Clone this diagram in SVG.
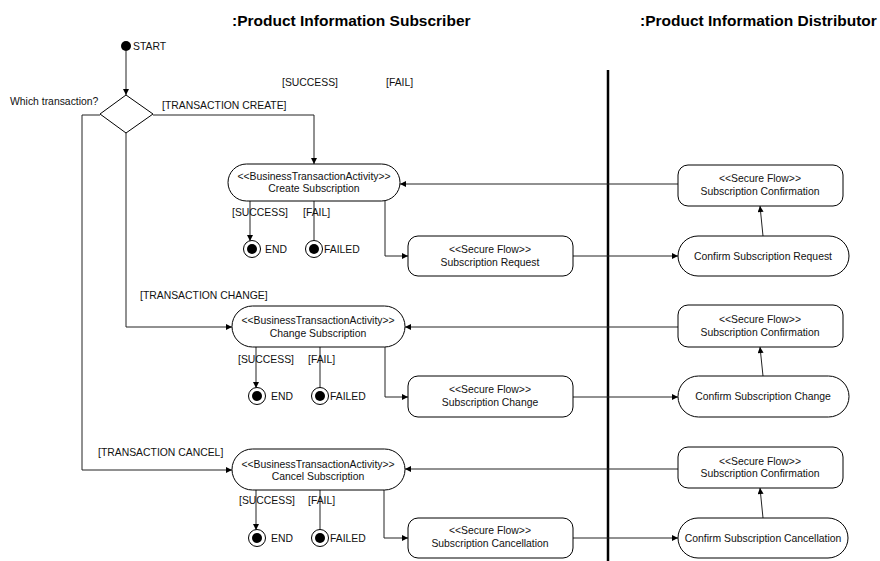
<svg xmlns="http://www.w3.org/2000/svg" width="880" height="561" viewBox="0 0 880 561">
  <defs>
    <marker id="arrow" viewBox="0 0 10 10" refX="10" refY="5" markerWidth="8" markerHeight="6" markerUnits="userSpaceOnUse" orient="auto">
      <path d="M0,0 L10,5 L0,10 z" fill="#000"/>
    </marker>
    <style>
      text { font-family: "Liberation Sans", Arial, sans-serif; fill: #111; }
      .lbl { font-size: 10.4px; }
      .node { font-size: 10.4px; text-anchor: middle; }
      .title { font-size: 15.5px; font-weight: bold; fill: #000; }
      .box { fill: #fff; stroke: #000; stroke-width: 1; }
      .edge { fill: none; stroke: #222; stroke-width: 1; }
      .arr { marker-end: url(#arrow); }
      .ring { fill: #fff; stroke: #000; stroke-width: 1; }
      .dot { fill: #000; }
    </style>
  </defs>

  <rect width="880" height="561" fill="#fff"/>

  <!-- swimlane headers and divider -->
  <text class="title" x="232" y="26">:Product Information Subscriber</text>
  <text class="title" x="640" y="26">:Product Information Distributor</text>
  <line x1="608" y1="70" x2="608" y2="561" stroke="#000" stroke-width="2.5"/>

  <!-- loose guard labels -->
  <text class="lbl" x="282" y="86">[SUCCESS]</text>
  <text class="lbl" x="386" y="86">[FAIL]</text>

  <!-- connectors -->
  <g id="connectors">
    <path class="edge arr" d="M126,51 L126,95"/>
    <path class="edge arr" d="M153,115 L314,115 L314,164"/>
    <path class="edge arr" d="M126,133 L126,327 L232,327"/>
    <path class="edge arr" d="M100,115 L82,115 L82,470 L232,470"/>

    <!-- create row -->
    <path class="edge arr" d="M250,201 L250,241"/>
    <path class="edge" d="M314,201 L314,241"/>
    <path class="edge arr" d="M385,201 L385,256 L408,256"/>
    <path class="edge arr" d="M573,256 L678,256"/>
    <path class="edge arr" d="M763,236 L760,206"/>
    <path class="edge arr" d="M678,184 L400,184"/>

    <!-- change row -->
    <path class="edge arr" d="M256,347 L256,388"/>
    <path class="edge" d="M320,347 L320,388"/>
    <path class="edge arr" d="M385,347 L385,397 L408,397"/>
    <path class="edge arr" d="M573,397 L678,397"/>
    <path class="edge arr" d="M763,376 L760,347"/>
    <path class="edge arr" d="M678,327 L405,327"/>

    <!-- cancel row -->
    <path class="edge arr" d="M256,490 L256,530"/>
    <path class="edge" d="M320,490 L320,530"/>
    <path class="edge arr" d="M384,490 L384,538 L408,538"/>
    <path class="edge arr" d="M573,538 L678,538"/>
    <path class="edge arr" d="M763,518 L760,488"/>
    <path class="edge arr" d="M678,469 L405,469"/>
  </g>

  <!-- start and decision -->
  <g id="start">
    <circle class="dot" cx="126" cy="46" r="5"/>
    <text class="lbl" x="133" y="50">START</text>
  </g>
  <g id="decision">
    <path class="box" d="M126,95 L153,114 L126,133 L100,114 z"/>
    <text class="lbl" x="10" y="105">Which transaction?</text>
    <text class="lbl" x="162" y="109">[TRANSACTION CREATE]</text>
    <text class="lbl" x="140" y="299">[TRANSACTION CHANGE]</text>
    <text class="lbl" x="98" y="456">[TRANSACTION CANCEL]</text>
  </g>

  <!-- create subscription row -->
  <g id="create-subscription">
    <rect class="box" x="228" y="164" width="172" height="37" rx="18.5"/>
    <text class="node" x="314" y="180">&lt;&lt;BusinessTransactionActivity&gt;&gt;</text>
    <text class="node" x="314" y="192">Create Subscription</text>
    <text class="lbl" x="232" y="216">[SUCCESS]</text>
    <text class="lbl" x="303" y="216">[FAIL]</text>
  </g>
  <g id="create-end">
    <circle class="ring" cx="252" cy="249" r="8.5"/>
    <circle class="dot" cx="252" cy="249" r="5"/>
    <text class="lbl" x="265" y="253">END</text>
  </g>
  <g id="create-failed">
    <circle class="ring" cx="314" cy="249" r="8.5"/>
    <circle class="dot" cx="314" cy="249" r="5"/>
    <text class="lbl" x="324" y="253">FAILED</text>
  </g>
  <g id="subscription-request">
    <rect class="box" x="408" y="236" width="165" height="40" rx="10"/>
    <text class="node" x="490" y="253">&lt;&lt;Secure Flow&gt;&gt;</text>
    <text class="node" x="490" y="266">Subscription Request</text>
  </g>
  <g id="confirm-request">
    <rect class="box" x="678" y="236" width="171" height="40" rx="20"/>
    <text class="node" x="763" y="260">Confirm Subscription Request</text>
  </g>
  <g id="confirmation-create">
    <rect class="box" x="678" y="165" width="165" height="41" rx="10"/>
    <text class="node" x="760" y="182">&lt;&lt;Secure Flow&gt;&gt;</text>
    <text class="node" x="760" y="195">Subscription Confirmation</text>
  </g>

  <!-- change subscription row -->
  <g id="change-subscription">
    <rect class="box" x="232" y="306" width="173" height="41" rx="20.5"/>
    <text class="node" x="318" y="324">&lt;&lt;BusinessTransactionActivity&gt;&gt;</text>
    <text class="node" x="318" y="337">Change Subscription</text>
    <text class="lbl" x="238" y="363">[SUCCESS]</text>
    <text class="lbl" x="308" y="363">[FAIL]</text>
  </g>
  <g id="change-end">
    <circle class="ring" cx="257" cy="396" r="8.5"/>
    <circle class="dot" cx="257" cy="396" r="5"/>
    <text class="lbl" x="271" y="400">END</text>
  </g>
  <g id="change-failed">
    <circle class="ring" cx="320" cy="396" r="8.5"/>
    <circle class="dot" cx="320" cy="396" r="5"/>
    <text class="lbl" x="330" y="400">FAILED</text>
  </g>
  <g id="subscription-change">
    <rect class="box" x="408" y="376" width="165" height="41" rx="10"/>
    <text class="node" x="490" y="393">&lt;&lt;Secure Flow&gt;&gt;</text>
    <text class="node" x="490" y="406">Subscription Change</text>
  </g>
  <g id="confirm-change">
    <rect class="box" x="678" y="376" width="171" height="41" rx="20.5"/>
    <text class="node" x="763" y="400">Confirm Subscription Change</text>
  </g>
  <g id="confirmation-change">
    <rect class="box" x="678" y="305" width="165" height="42" rx="10"/>
    <text class="node" x="760" y="323">&lt;&lt;Secure Flow&gt;&gt;</text>
    <text class="node" x="760" y="336">Subscription Confirmation</text>
  </g>

  <!-- cancel subscription row -->
  <g id="cancel-subscription">
    <rect class="box" x="232" y="449" width="173" height="41" rx="20.5"/>
    <text class="node" x="318" y="468">&lt;&lt;BusinessTransactionActivity&gt;&gt;</text>
    <text class="node" x="318" y="480">Cancel Subscription</text>
    <text class="lbl" x="239" y="504">[SUCCESS]</text>
    <text class="lbl" x="308" y="504">[FAIL]</text>
  </g>
  <g id="cancel-end">
    <circle class="ring" cx="257" cy="538" r="8.5"/>
    <circle class="dot" cx="257" cy="538" r="5"/>
    <text class="lbl" x="271" y="542">END</text>
  </g>
  <g id="cancel-failed">
    <circle class="ring" cx="320" cy="538" r="8.5"/>
    <circle class="dot" cx="320" cy="538" r="5"/>
    <text class="lbl" x="330" y="542">FAILED</text>
  </g>
  <g id="subscription-cancellation">
    <rect class="box" x="408" y="518" width="165" height="40" rx="10"/>
    <text class="node" x="490" y="534">&lt;&lt;Secure Flow&gt;&gt;</text>
    <text class="node" x="490" y="547">Subscription Cancellation</text>
  </g>
  <g id="confirm-cancellation">
    <rect class="box" x="678" y="518" width="170" height="40" rx="20"/>
    <text class="node" x="763" y="542">Confirm Subscription Cancellation</text>
  </g>
  <g id="confirmation-cancel">
    <rect class="box" x="678" y="447" width="165" height="41" rx="10"/>
    <text class="node" x="760" y="465">&lt;&lt;Secure Flow&gt;&gt;</text>
    <text class="node" x="760" y="477">Subscription Confirmation</text>
  </g>
</svg>
